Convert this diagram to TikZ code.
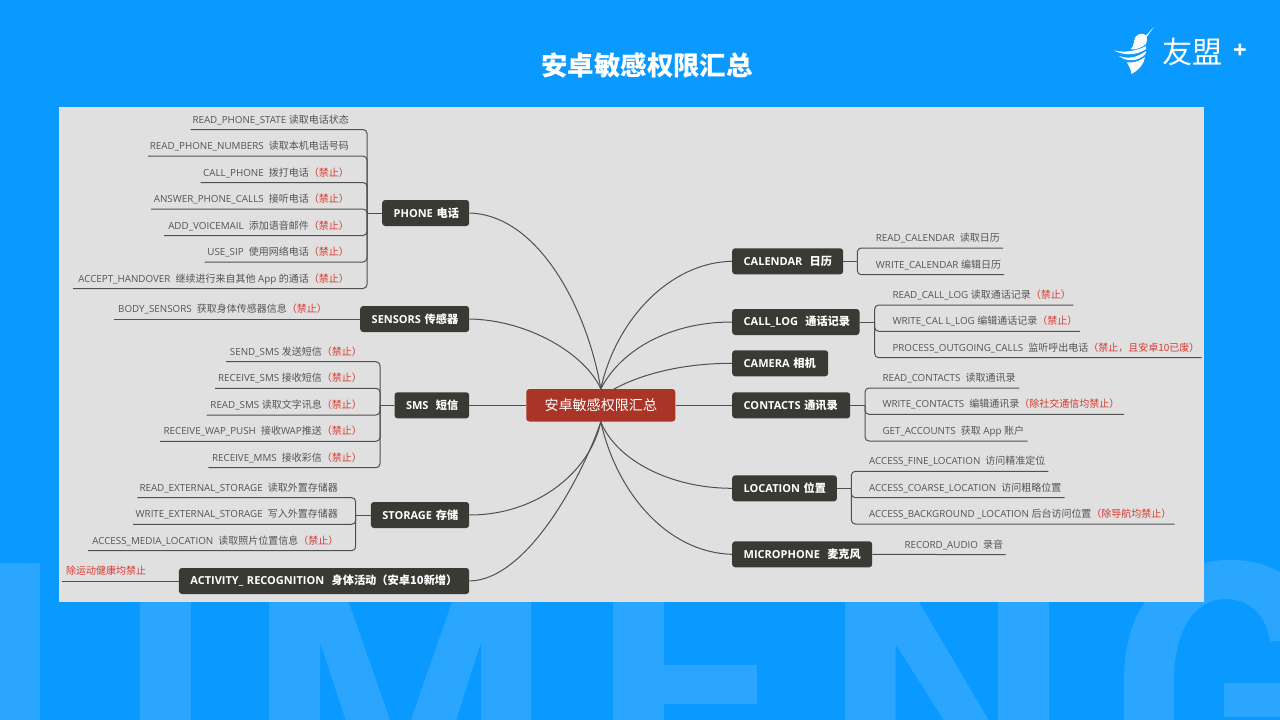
\documentclass[tikz,border=0pt]{standalone}
\usepackage{fontspec}
\setmainfont{Open Sans}
\newfontfamily\cjk[Scale=1.02]{Noto Sans CJK SC}
\definecolor{bgblue}{HTML}{0A99FF}
\definecolor{letter}{HTML}{2BA6FF}
\definecolor{panel}{HTML}{E0E0E0}
\definecolor{hubfill}{HTML}{3A3A34}
\definecolor{rootfill}{HTML}{A83525}
\definecolor{linec}{HTML}{505050}
\definecolor{leafc}{HTML}{555555}
\definecolor{forbid}{HTML}{D83A30}
\newcommand\cn[1]{{\cjk #1}}
\newcommand\no[1]{{\cjk\color{forbid}#1}}
\tikzset{
  conn/.style={draw=linec,line width=1pt},
  hubnode/.style={fill=hubfill,rounded corners=3pt,text=white,font=\fontsize{11}{12}\selectfont\bfseries,minimum height=26pt,inner xsep=0pt,inner ysep=0pt,anchor=west,align=left},
  leaftext/.style={text=leafc,font=\fontsize{9.8}{11}\selectfont,inner sep=0pt},
}
% name, line start x, line y, text right x, bracket, text
\newcommand\leafl[6]{%
  \coordinate (#1-e) at (#2,#3);
  \node[leaftext,anchor=base east] (#1) at (#4,#3-6.5) {#6};
  \draw[conn,rounded corners=4pt] (#1-e) -| (#5);
}
% name, line end x, line y, text left x, bracket, text
\newcommand\leafr[6]{%
  \coordinate (#1-e) at (#2,#3);
  \node[leaftext,anchor=base west] (#1) at (#4,#3-6.5) {#6};
  \draw[conn,rounded corners=4pt] (#1-e) -| (#5);
}
% name, left x, right x, centre y, text
\newcommand\hub[5]{%
  \node[hubnode,minimum width={#3-#2},text width={#3-#2}] (#1) at (#2,#4) {\hspace*{11.5pt}#5};
}
\begin{document}
\begin{tikzpicture}[x=1pt,y=-1pt]
\useasboundingbox (0,0) rectangle (1280,720);
\fill[bgblue] (0,0) rectangle (1280,720);
% watermark letters
\begin{scope}
\clip (0,0) rectangle (1280,720);
\fill[letter] (-10,563) rectangle (40,730);
\fill[letter] (140,563) rectangle (191,730);
\fill[letter] (269,563) -- (335,563) -- (400.5,750) -- (465.5,563) -- (531,563) -- (531,730) -- (481,730) -- (481,642) -- (453,730) -- (349,730) -- (320,642) -- (320,730) -- (269,730) -- cycle;
\fill[letter] (613,563) rectangle (664,730);
\fill[letter] (660,665) rectangle (757,704);
\fill[letter] (845,563) -- (896,563) -- (998,736) -- (998,563) -- (1049,563) -- (1049,730) -- (950,730) -- (895.5,644) -- (895.5,730) -- (845,730) -- cycle;
\fill[letter] (1124,730) -- (1124,680) .. controls (1124,600) and (1170,560) .. (1230,560) .. controls (1255,560) and (1272,566) .. (1290,578) -- (1290,641) -- (1270,641) .. controls (1266,615) and (1250,599) .. (1225,599) .. controls (1195,599) and (1174,630) .. (1174,680) -- (1174,730) -- cycle;
\fill[letter] (1224,683) rectangle (1285,717);
\end{scope}
% panel
\fill[panel] (59,107) rectangle (1204,602);
% title
\node[text=white,font=\fontsize{25.9}{30}\selectfont\cjk\bfseries,inner sep=0pt] (title) at (647,65) {安卓敏感权限汇总};
% logo
\fill[white] (1154,27) -- (1146,35.5) .. controls (1143,32.5) and (1138,33.5) .. (1135.5,37) .. controls (1133,41) and (1135,45) .. (1130.5,49.5) .. controls (1136,50) and (1142,47.5) .. (1146,44) .. controls (1147,41) and (1147,39) .. (1147,36.5) -- cycle;
\fill[white] (1114,50.5) .. controls (1125,53) and (1137,51) .. (1146,46) .. controls (1146.5,47) and (1146.5,48) .. (1146,49) .. controls (1137,55.5) and (1124,56) .. (1114,50.5) -- cycle;
\fill[white] (1119,56) .. controls (1129,59.5) and (1138,57) .. (1146,51) .. controls (1146,52) and (1146,53) .. (1145.5,54) .. controls (1138,61.5) and (1127,62.5) .. (1119,56) -- cycle;
\fill[white] (1131.5,74) .. controls (1131,70) and (1129,66) .. (1127,62.5) .. controls (1134,63) and (1140,61) .. (1145,57) .. controls (1144,64) and (1139,70) .. (1131.5,74) -- cycle;
\node[text=white,font=\fontsize{29.6}{32}\selectfont\cjk,inner sep=0pt] (logotext) at (1192.5,52) {友盟};
\node[text=white,font=\fontsize{24}{24}\selectfont\bfseries,inner sep=0pt] (logoplus) at (1240,51) {+};
% root
\node[fill=rootfill,rounded corners=3pt,text=white,font=\fontsize{13.8}{16}\selectfont\cjk,minimum width=149pt,minimum height=32.5pt,inner sep=0pt] (root) at (600.8,405.3) {安卓敏感权限汇总};
% hubs
\hub{phone}{382}{469}{213}{PHONE \cn{电话}}
\hub{sensors}{360}{469}{319}{SENSORS \cn{传感器}}
\hub{sms}{394.3}{469}{405.3}{SMS~~\cn{短信}}
\hub{storage}{370.7}{469}{515}{STORAGE \cn{存储}}
\hub{activity}{178.7}{469}{581}{ACTIVITY\_ RECOGNITION~~\cn{身体活动（安卓10新增）}}
\hub{calendar}{732}{843}{261.3}{CALENDAR~~\cn{日历}}
\hub{calllog}{732}{859.3}{322}{CALL\_LOG~~\cn{通话记录}}
\hub{camera}{732}{828}{363.3}{CAMERA \cn{相机}}
\hub{contacts}{732}{850}{405.3}{CONTACTS \cn{通讯录}}
\hub{location}{732}{836.7}{488.3}{LOCATION \cn{位置}}
\hub{micro}{732}{872}{554.3}{MICROPHONE~~\cn{麦克风}}
% root connectors
\coordinate (rootcam) at (614,389);
\draw[conn] (phone.east) .. controls +(70,2) and +(-13,-78) .. (root.north);
\draw[conn] (sensors.east) .. controls +(60,1) and +(-15,-34) .. (root.north);
\draw[conn] (sms.east) -- (sms.east -| root.west);
\draw[conn] (storage.east) .. controls +(70,0) and +(-10,48) .. (root.south);
\draw[conn] (activity.east) .. controls +(60,-1) and +(-16,48) .. (root.south);
\draw[conn] (calendar.west) .. controls +(-62,1) and +(15,-69) .. (root.north);
\draw[conn] (calllog.west) .. controls +(-62,0) and +(20,-39) .. (root.north);
\draw[conn] (camera.west) .. controls +(-52,0) and +(26,-14) .. (rootcam);
\draw[conn] (contacts.west) -- (root.east);
\draw[conn] (location.west) .. controls +(-62,0) and +(15,38) .. (root.south);
\draw[conn] (micro.west) .. controls +(-67,-2) and +(15,68) .. (root.south);
% brackets
\coordinate (bphone) at (367,213);
\coordinate (bsms) at (380,405.3);
\coordinate (bstorage) at (355.7,515);
\coordinate (bcal) at (857.3,261.3);
\coordinate (blog) at (874.7,322);
\coordinate (bcon) at (865,405.3);
\coordinate (bloc) at (851.3,488.3);
\draw[conn] (phone.west) -- (bphone);
\draw[conn] (sms.west) -- (bsms);
\draw[conn] (storage.west) -- (bstorage);
\draw[conn] (calendar.east) -- (bcal);
\draw[conn] (calllog.east) -- (blog);
\draw[conn] (contacts.east) -- (bcon);
\draw[conn] (location.east) -- (bloc);
% PHONE leaves
\leafl{p1}{190.7}{129.5}{349}{bphone}{READ\_PHONE\_STATE \cn{读取电话状态}}
\leafl{p2}{148}{156}{349}{bphone}{READ\_PHONE\_NUMBERS~~\cn{读取本机电话号码}}
\leafl{p3}{200.7}{182.5}{349}{bphone}{CALL\_PHONE~~\cn{拨打电话}\no{（禁止）}}
\leafl{p4}{151}{209}{349}{bphone}{ANSWER\_PHONE\_CALLS~~\cn{接听电话}\no{（禁止）}}
\leafl{p5}{164}{235.5}{349}{bphone}{ADD\_VOICEMAIL~~\cn{添加语音邮件}\no{（禁止）}}
\leafl{p6}{204.7}{262}{349}{bphone}{USE\_SIP~~\cn{使用网络电话}\no{（禁止）}}
\leafl{p7}{73}{288.5}{349}{bphone}{ACCEPT\_HANDOVER~~\cn{继续进行来自其他} App \cn{的通话}\no{（禁止）}}
% SENSORS
\coordinate (s1-e) at (114.3,319);
\node[leaftext,anchor=base east] (s1) at (327,312.5) {BODY\_SENSORS~~\cn{获取身体传感器信息}\no{（禁止）}};
\draw[conn] (s1-e) -- (sensors.west);
% SMS
\leafl{m1}{226}{361.7}{362}{bsms}{SEND\_SMS \cn{发送短信}\no{（禁止）}}
\leafl{m2}{215}{388.3}{362}{bsms}{RECEIVE\_SMS \cn{接收短信}\no{（禁止）}}
\leafl{m3}{206.7}{415}{362}{bsms}{READ\_SMS \cn{读取文字讯息}\no{（禁止）}}
\leafl{m4}{160}{441.3}{362}{bsms}{RECEIVE\_WAP\_PUSH~~\cn{接收}WAP\cn{推送}\no{（禁止）}}
\leafl{m5}{208.3}{467.7}{362}{bsms}{RECEIVE\_MMS~~\cn{接收彩信}\no{（禁止）}}
% STORAGE
\leafl{o1}{137.3}{497.7}{338}{bstorage}{READ\_EXTERNAL\_STORAGE~~\cn{读取外置存储器}}
\leafl{o2}{133}{524.3}{338}{bstorage}{WRITE\_EXTERNAL\_STORAGE~~\cn{写入外置存储器}}
\leafl{o3}{88}{550.7}{338.5}{bstorage}{ACCESS\_MEDIA\_LOCATION~~\cn{读取照片位置信息}\no{（禁止）}}
% ACTIVITY
\coordinate (a1-e) at (62,581);
\node[leaftext,anchor=base west] (a1) at (66,574.5) {\no{除运动健康均禁止}};
\draw[conn] (a1-e) -- (activity.west);
% CALENDAR
\leafr{c1}{1003}{248}{875.7}{bcal}{READ\_CALENDAR~~\cn{读取日历}}
\leafr{c2}{1004}{274.7}{875.7}{bcal}{WRITE\_CALENDAR \cn{编辑日历}}
% CALL_LOG
\leafr{l1}{1073.3}{305}{892.3}{blog}{READ\_CALL\_LOG \cn{读取通话记录}\no{（禁止）}}
\leafr{l2}{1080}{331.3}{892.3}{blog}{WRITE\_CAL L\_LOG \cn{编辑通话记录}\no{（禁止）}}
\leafr{l3}{1201.7}{357.7}{892.3}{blog}{PROCESS\_OUTGOING\_CALLS~~\cn{监听呼出电话}\no{（禁止，且安卓10已废）}}
% CONTACTS
\leafr{t1}{1019.3}{388}{882.3}{bcon}{READ\_CONTACTS~~\cn{读取通讯录}}
\leafr{t2}{1124}{414.3}{882.3}{bcon}{WRITE\_CONTACTS~~\cn{编辑通讯录}\no{（除社交通信均禁止）}}
\leafr{t3}{1027.7}{441}{882.3}{bcon}{GET\_ACCOUNTS~~\cn{获取} App \cn{账户}}
% LOCATION
\leafr{n1}{1048.3}{471.3}{869}{bloc}{ACCESS\_FINE\_LOCATION~~\cn{访问精准定位}}
\leafr{n2}{1064.7}{497.7}{869}{bloc}{ACCESS\_COARSE\_LOCATION~~\cn{访问粗略位置}}
\leafr{n3}{1174.7}{524}{869}{bloc}{ACCESS\_BACKGROUND \_LOCATION \cn{后台访问位置}\no{（除导航均禁止）}}
% MICROPHONE
\coordinate (r1-e) at (1005.7,554.7);
\node[leaftext,anchor=base west] (r1) at (904.3,548.2) {RECORD\_AUDIO~~\cn{录音}};
\draw[conn] (r1-e) -- (micro.east);
\end{tikzpicture}
\end{document}
